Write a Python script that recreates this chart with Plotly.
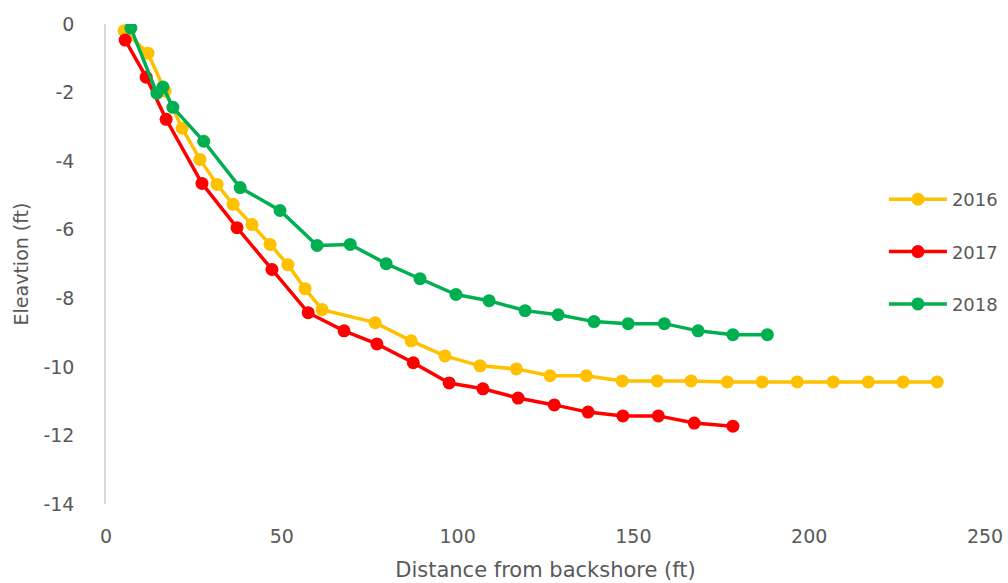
import plotly.graph_objects as go

# 2016 profile
x_2016 = [5.15, 11.93, 16.79, 21.65, 26.72, 31.58, 36.14, 41.51, 46.67, 51.73, 56.6, 61.46,
          76.55, 86.78, 96.4, 106.4, 116.7, 126.3, 136.6, 146.8, 156.8, 166.4,
          176.7, 186.6, 196.6, 206.8, 216.8, 226.7, 236.4]
y_2016 = [-0.20, -0.85, -1.96, -3.04, -3.95, -4.68, -5.26, -5.85, -6.43, -7.02, -7.72, -8.33,
          -8.71, -9.24, -9.68, -9.97, -10.06, -10.26, -10.26, -10.41, -10.41, -10.41,
          -10.44, -10.44, -10.44, -10.44, -10.44, -10.44, -10.44]

# 2017 profile
x_2017 = [5.45, 11.43, 17.1, 27.3, 37.25, 47.2, 57.5, 67.7, 77.05, 87.4, 97.6, 107.2,
          117.2, 127.5, 137.1, 147.0, 157.1, 167.3, 178.3]
y_2017 = [-0.47, -1.55, -2.78, -4.65, -5.94, -7.16, -8.42, -8.95, -9.33, -9.88, -10.47, -10.64,
          -10.91, -11.11, -11.32, -11.43, -11.43, -11.64, -11.73]

# 2018 profile
x_2018 = [7.07, 14.46, 16.19, 19.02, 27.8, 38.16, 49.5, 60.04, 69.46, 79.69, 89.31, 99.54,
          108.96, 119.2, 128.6, 138.8, 148.5, 158.8, 168.4, 178.3, 188.1]
y_2018 = [-0.12, -2.02, -1.84, -2.43, -3.42, -4.77, -5.44, -6.46, -6.43, -6.99, -7.43, -7.89,
          -8.07, -8.36, -8.48, -8.68, -8.74, -8.74, -8.95, -9.06, -9.06]

series = [
    ("2016", x_2016, y_2016, "#FFC000"),
    ("2017", x_2017, y_2017, "#FF0000"),
    ("2018", x_2018, y_2018, "#00B050"),
]

x_ticks = [0, 50, 100, 150, 200, 250]
x_tick_text = ["0", "50", "100", "150", "200", "250"]
y_ticks = [0, -2, -4, -6, -8, -10, -12, -14]
y_tick_text = ["0", "-2", "-4", "-6", "-8", "-10", "-12", "-14"]

fig = go.Figure()
for name, xs, ys, col in series:
    fig.add_trace(go.Scatter(
        x=xs, y=ys, name=name, mode="lines+markers",
        line=dict(color=col, width=3.5),
        marker=dict(color=col, size=13),
        legendgroup=name,
    ))

font_fam = "DejaVu Sans, Verdana, sans-serif"
fig.update_layout(
    width=1008, height=583,
    margin=dict(l=106, r=23, t=24, b=79, autoexpand=False),
    paper_bgcolor="white", plot_bgcolor="white",
    font=dict(family=font_fam, color="#595959", size=19),
    showlegend=True,
    legend=dict(
        x=0.885, y=0.673, xanchor="left", yanchor="top",
        font=dict(size=18, color="#595959"),
        itemwidth=58, tracegroupgap=26,
        borderwidth=0,
        bgcolor="rgba(0,0,0,0)",
    ),
    xaxis=dict(
        range=[0, 250], tickvals=x_ticks, ticktext=x_tick_text,
        showgrid=False, zeroline=False, automargin=False,
        showline=False, ticks="", ticklabelstandoff=19, ticklabeloverflow="allow",
        title=dict(text="Distance from backshore (ft)", font=dict(size=21), standoff=16),
        tickfont=dict(size=19),
    ),
    yaxis=dict(
        range=[-14, 0], tickvals=y_ticks, ticktext=y_tick_text,
        showgrid=False, zeroline=False, automargin=False,
        showline=True, linecolor="#D9D9D9", linewidth=1.5, ticks="",
        ticklabelstandoff=26,
        title=dict(text="Eleavtion (ft)", font=dict(size=19), standoff=10),
        tickfont=dict(size=19),
    ),
)

fig.write_html(
    "out.html",
    config={"displayModeBar": False},
    post_script="document.body.style.margin='0';"
                "document.documentElement.style.overflow='hidden';"
                "document.body.style.overflow='hidden';",
)
